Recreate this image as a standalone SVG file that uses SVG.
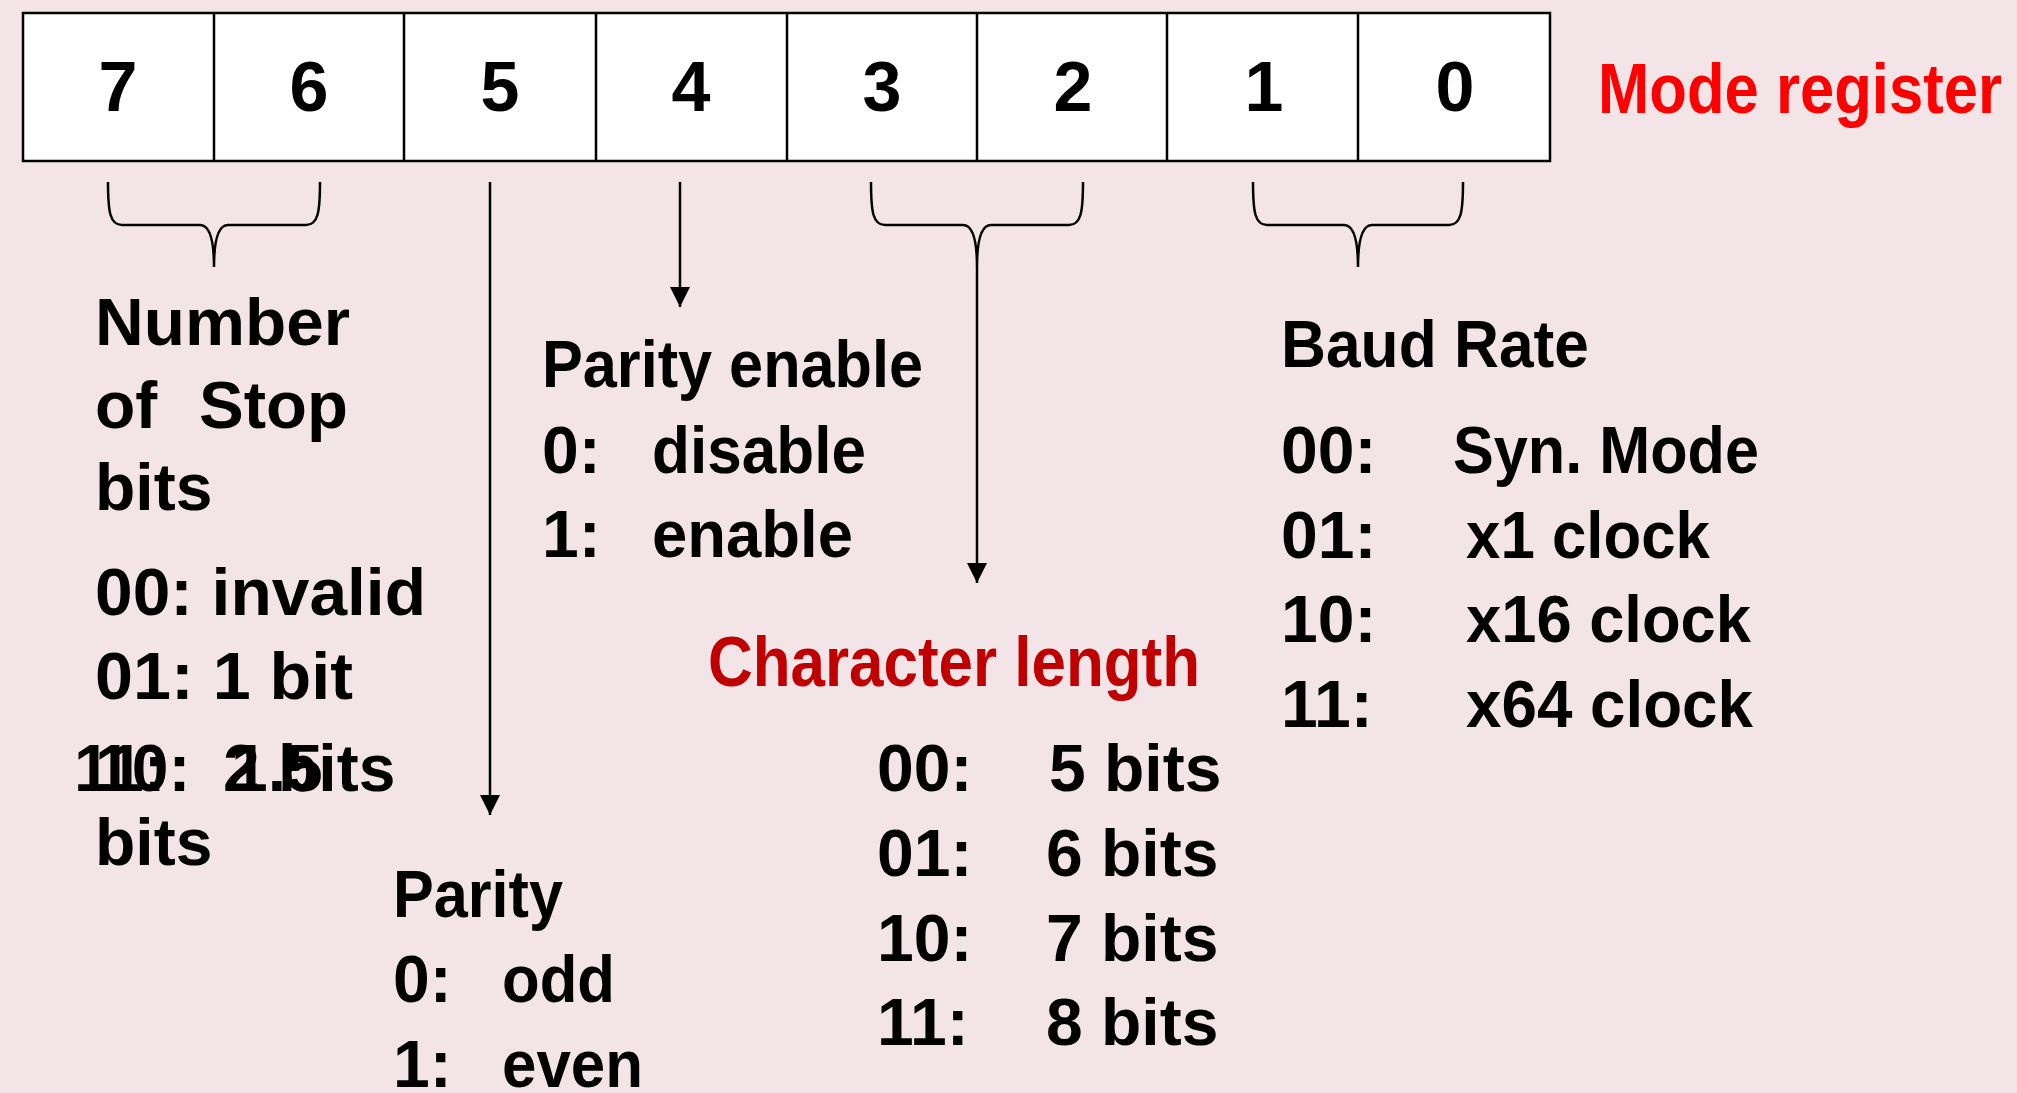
<svg xmlns="http://www.w3.org/2000/svg" width="2017" height="1093" viewBox="0 0 2017 1093">
<style>
text{font-family:"Liberation Sans",Arial,sans-serif;font-weight:bold;fill:#000}
.d{font-size:70px;text-anchor:middle}
.t{font-size:66px}
.red{font-size:70px;fill:#FF0000}
.dred{font-size:70px;fill:#C00000}
.ln{stroke:#000;stroke-width:2.5;fill:none}
.cell{fill:#fff;stroke:#000;stroke-width:2.5}
</style>
<defs>
<marker id="ah" markerUnits="userSpaceOnUse" markerWidth="22" markerHeight="22" refX="20" refY="10" orient="auto">
<path d="M0,0 L20,10 L0,20 Z" fill="#000"/>
</marker>
</defs>
<rect x="0" y="0" width="2017" height="1093" fill="#F3E5E7"/>

<g id="register">
<rect class="cell" x="23" y="13" width="1527" height="148" stroke-width="3.5"/>
<path class="ln" d="M214,13V161M404,13V161M596,13V161M787,13V161M977,13V161M1167,13V161M1358,13V161"/>
<text class="d" x="118" y="111">7</text>
<text class="d" x="309" y="111">6</text>
<text class="d" x="500" y="111">5</text>
<text class="d" x="691" y="111">4</text>
<text class="d" x="882" y="111">3</text>
<text class="d" x="1073" y="111">2</text>
<text class="d" x="1264" y="111">1</text>
<text class="d" x="1455" y="111">0</text>
</g>

<g id="mode-register-label">
<text class="red" x="1598" y="113" textLength="404" lengthAdjust="spacingAndGlyphs">Mode register</text>
</g>

<g id="connectors">
<path class="ln" d="M108,182 C108,212 110,225 122,225 L200,225 C210,225 214,240 214,267 M320,182 C320,212 318,225 306,225 L228,225 C218,225 214,240 214,267"/>
<path class="ln" d="M871,182 C871,212 873,225 885,225 L963,225 C973,225 977,240 977,267 M1083,182 C1083,212 1081,225 1069,225 L991,225 C981,225 977,240 977,267"/>
<path class="ln" d="M1253,182 C1253,212 1255,225 1267,225 L1344,225 C1354,225 1358,240 1358,267 M1463,182 C1463,212 1461,225 1449,225 L1372,225 C1362,225 1358,240 1358,267"/>
<line class="ln" x1="490" y1="182" x2="490" y2="815" marker-end="url(#ah)"/>
<line class="ln" x1="680" y1="182" x2="680" y2="307" marker-end="url(#ah)"/>
<line class="ln" x1="977" y1="267" x2="977" y2="583" marker-end="url(#ah)"/>
</g>

<g id="stop-bits">
<text class="t" x="95" y="345" textLength="255" lengthAdjust="spacingAndGlyphs">Number</text>
<text class="t" x="95" y="428">of</text>
<text class="t" x="199" y="428" textLength="149" lengthAdjust="spacingAndGlyphs">Stop</text>
<text class="t" x="95" y="510">bits</text>
<text class="t" x="95" y="615" textLength="331" lengthAdjust="spacingAndGlyphs">00: invalid</text>
<text class="t" x="95" y="699" textLength="258" lengthAdjust="spacingAndGlyphs">01: 1 bit</text>
<text class="t" x="74" y="791">11:</text>
<text class="t" x="223" y="791">2 bits</text>
<text class="t" x="95" y="791">10:</text>
<text class="t" x="231" y="791">1.5</text>
<text class="t" x="95" y="865">bits</text>
</g>

<g id="parity">
<text class="t" x="393" y="917" textLength="170" lengthAdjust="spacingAndGlyphs">Parity</text>
<text class="t" x="393" y="1002">0:</text>
<text class="t" x="502" y="1002" textLength="113" lengthAdjust="spacingAndGlyphs">odd</text>
<text class="t" x="393" y="1087">1:</text>
<text class="t" x="502" y="1087" textLength="141" lengthAdjust="spacingAndGlyphs">even</text>
</g>

<g id="parity-enable">
<text class="t" x="542" y="387" textLength="381" lengthAdjust="spacingAndGlyphs">Parity enable</text>
<text class="t" x="542" y="473">0:</text>
<text class="t" x="652" y="473" textLength="214" lengthAdjust="spacingAndGlyphs">disable</text>
<text class="t" x="542" y="557">1:</text>
<text class="t" x="652" y="557" textLength="201" lengthAdjust="spacingAndGlyphs">enable</text>
</g>

<g id="character-length">
<text class="dred" x="708" y="686" textLength="492" lengthAdjust="spacingAndGlyphs">Character length</text>
<text class="t" x="877" y="791">00:</text>
<text class="t" x="1049" y="791">5 bits</text>
<text class="t" x="877" y="876">01:</text>
<text class="t" x="1046" y="876">6 bits</text>
<text class="t" x="877" y="961">10:</text>
<text class="t" x="1046" y="961">7 bits</text>
<text class="t" x="877" y="1045">11:</text>
<text class="t" x="1046" y="1045">8 bits</text>
</g>

<g id="baud-rate">
<text class="t" x="1281" y="367" textLength="308" lengthAdjust="spacingAndGlyphs">Baud Rate</text>
<text class="t" x="1281" y="473">00:</text>
<text class="t" x="1453" y="473" textLength="306" lengthAdjust="spacingAndGlyphs">Syn. Mode</text>
<text class="t" x="1281" y="558">01:</text>
<text class="t" x="1466" y="558" textLength="244" lengthAdjust="spacingAndGlyphs">x1 clock</text>
<text class="t" x="1281" y="642">10:</text>
<text class="t" x="1466" y="642" textLength="285" lengthAdjust="spacingAndGlyphs">x16 clock</text>
<text class="t" x="1281" y="727">11:</text>
<text class="t" x="1466" y="727" textLength="287" lengthAdjust="spacingAndGlyphs">x64 clock</text>
</g>
</svg>
